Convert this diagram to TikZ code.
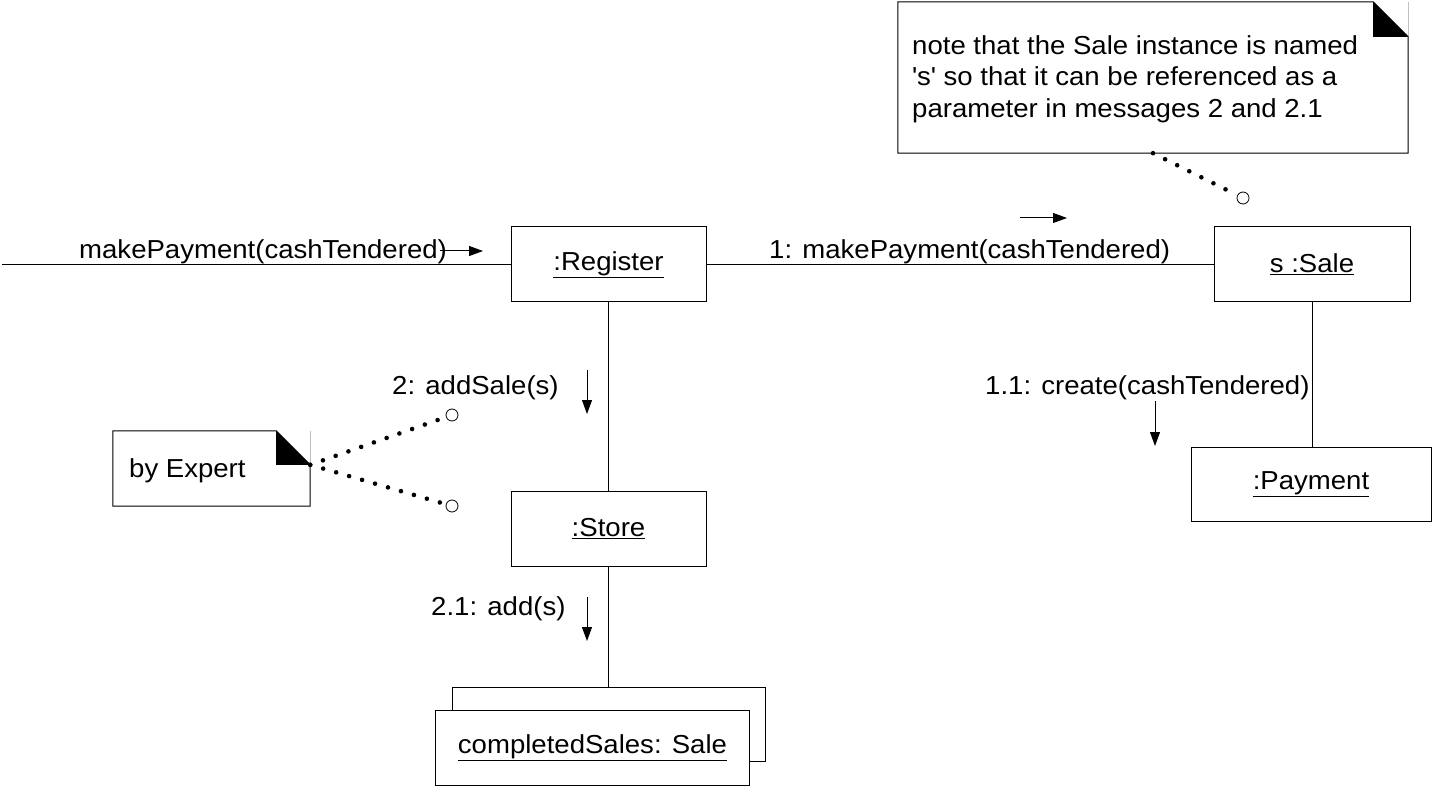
\documentclass[tikz,border=0pt]{standalone}
\usepackage{fontspec}
\setmainfont{Liberation Sans}[FakeStretch=1.06]
\usetikzlibrary{arrows.meta}
\newcommand\umlfont{\fontsize{26}{31}\selectfont}
\tikzset{
  x=1pt, y=-1pt,
  obj/.style={draw, line width=1pt, inner sep=0pt, font=\umlfont, fill=white},
  link/.style={line width=1pt},
  msg/.style={line width=1pt, -{Triangle[length=14pt,width=10pt]}},
  lbl/.style={inner sep=0pt, font=\umlfont, anchor=base west},
  notebox/.style={draw=none, inner sep=0pt},
  notelink/.style={line width=4.6pt, line cap=round, dash pattern=on 0pt off 13.5pt},
  lollipop/.style={circle, draw, line width=0.8pt, minimum size=12pt, inner sep=0pt, fill=white},
}
\begin{document}
\begin{tikzpicture}
\useasboundingbox (0,0) rectangle (1432,786);

% objects
\node[obj, minimum width=195pt, minimum height=75pt] (reg) at (608.5,264.5) {\underline{:Register}};
\node[obj, minimum width=196pt, minimum height=75pt] (sale) at (1312,264.5) {\underline{s :Sale}};
\node[obj, minimum width=240pt, minimum height=74pt] (pay) at (1311,484) {\underline{:Payment}};
\node[obj, minimum width=195pt, minimum height=75pt] (store) at (608.5,528.5) {\underline{:Store}};
\node[obj, minimum width=313pt, minimum height=74pt] (csback) at (609,724) {};
\node[obj, minimum width=314pt, minimum height=75pt] (cs) at (592.5,747.5) {\underline{completedSales: Sale}};

% links
\coordinate (src) at (2,264.5);
\draw[link] (src) -- (reg.west);
\draw[link] (reg.east) -- (sale.west);
\draw[link] (reg.south) -- (store.north);
\draw[link] (store.south) -- (store.south |- csback.north);
\draw[link] (sale.south) -- (sale.south |- pay.north);

% messages
\node[lbl] (m0) at (79,259) {makePayment(cashTendered)};
\coordinate (m0a) at (440,251); \coordinate (m0b) at (483,251);
\draw[msg] (m0a) -- (m0b);

\node[lbl] (m1) at (769,259) {1: makePayment(cashTendered)};
\coordinate (m1a) at (1020,218); \coordinate (m1b) at (1067,218);
\draw[msg] (m1a) -- (m1b);

\node[lbl] (m2) at (392,394) {2: addSale(s)};
\coordinate (m2a) at (587,370); \coordinate (m2b) at (587,414);
\draw[msg] (m2a) -- (m2b);

\node[lbl] (m11) at (985,394) {1.1: create(cashTendered)};
\coordinate (m11a) at (1155,401); \coordinate (m11b) at (1155,446);
\draw[msg] (m11a) -- (m11b);

\node[lbl] (m21) at (431,615) {2.1: add(s)};
\coordinate (m21a) at (587,597); \coordinate (m21b) at (587,641);
\draw[msg] (m21a) -- (m21b);

% note on s :Sale
\node[notebox, minimum width=510pt, minimum height=151pt] (note) at (1153,77.5) {};
\draw[line width=0.5pt, black!25] (note.north east) -- ([yshift=-35pt]note.north east);
\draw[line width=1pt, fill=white] (note.south west) -- (note.north west) -- ([xshift=-35pt]note.north east)
  -- ([yshift=-35pt]note.north east) -- (note.south east) -- cycle;
\fill ([xshift=-35pt]note.north east) -- ([xshift=-35pt,yshift=-35pt]note.north east)
  -- ([yshift=-35pt]note.north east) -- cycle;
\node[lbl] (nt1) at (912,55) {note that the Sale instance is named};
\node[lbl] (nt2) at (912,86) {\textquotesingle s\textquotesingle{} so that it can be referenced as a};
\node[lbl] (nt3) at (912,118) {parameter in messages 2 and 2.1};
\node[lollipop] (c3) at (1243,198) {};
\draw[notelink] (note.south) -- (c3);

% note "by Expert"
\node[notebox, minimum width=197pt, minimum height=75pt] (exp) at (211.5,468.5) {};
\draw[line width=0.5pt, black!25] (exp.north east) -- ([yshift=-34pt]exp.north east);
\draw[line width=1pt, fill=white] (exp.south west) -- (exp.north west) -- ([xshift=-34pt]exp.north east)
  -- ([yshift=-34pt]exp.north east) -- (exp.south east) -- cycle;
\fill ([xshift=-34pt]exp.north east) -- ([xshift=-34pt,yshift=-34pt]exp.north east)
  -- ([yshift=-34pt]exp.north east) -- cycle;
\node[lbl] (et) at (129,477) {by Expert};
\coordinate (expc) at ([yshift=-34pt]exp.north east);
\node[lollipop] (c1) at (452,415) {};
\node[lollipop] (c2) at (452,506) {};
\draw[notelink] (expc) -- (c1);
\draw[notelink] (expc) -- (c2);
\end{tikzpicture}
\end{document}
